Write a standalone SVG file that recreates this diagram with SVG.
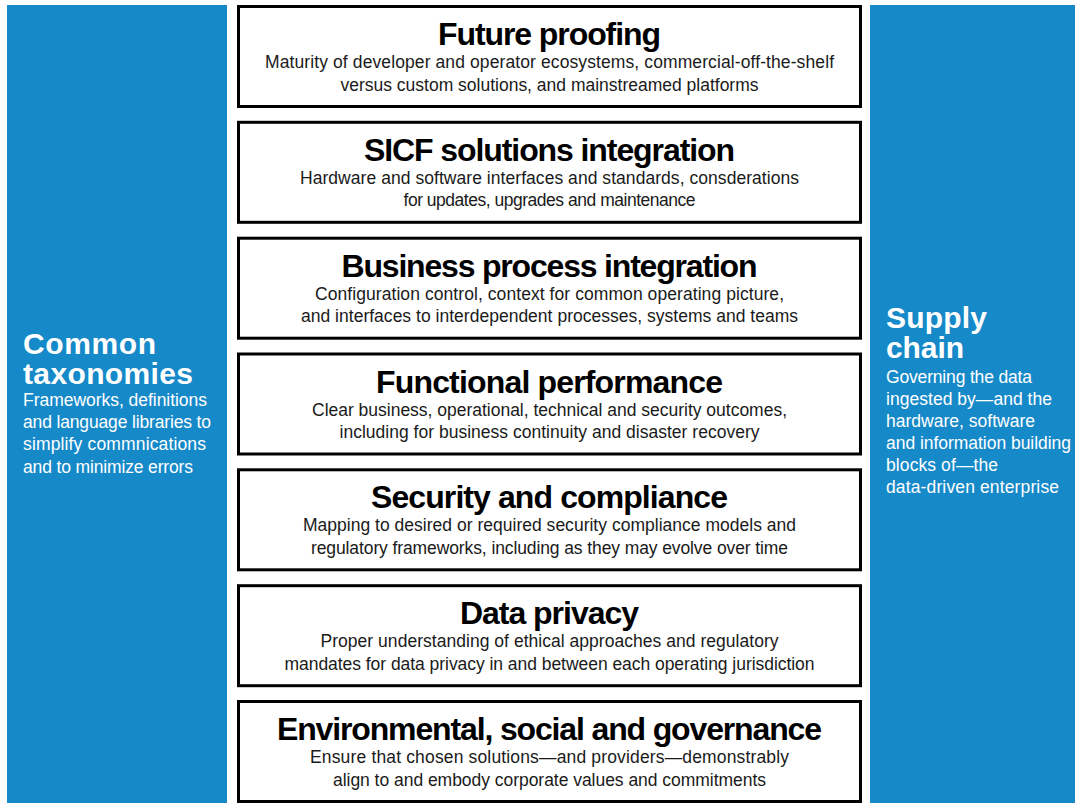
<svg xmlns="http://www.w3.org/2000/svg" width="1075" height="803" viewBox="0 0 1075 803">
  <style>
    .side { fill: #1689c8; }
    .box { fill: #ffffff; stroke: #000000; stroke-width: 3; }
    .title { font-family: "Liberation Sans", Arial, sans-serif; font-weight: 700; font-size: 32px; fill: #000000; text-anchor: middle; }
    .body { font-family: "Liberation Sans", Arial, sans-serif; font-size: 17.5px; fill: #1a1a1a; text-anchor: middle; }
    .sideHead { font-family: "Liberation Sans", Arial, sans-serif; font-weight: 700; font-size: 30px; fill: #ffffff; }
    .sideBody { font-family: "Liberation Sans", Arial, sans-serif; font-size: 17.5px; fill: #ffffff; }
  </style>
  <rect width="1075" height="803" fill="#ffffff"/>

  <!-- left column -->
  <g id="common-taxonomies">
    <rect class="side" x="7" y="5" width="220" height="798"/>
    <text class="sideHead" x="23" y="354" textLength="133">Common</text>
    <text class="sideHead" x="23" y="384" textLength="170">taxonomies</text>
    <text class="sideBody" x="23" y="406" textLength="184">Frameworks, definitions</text>
    <text class="sideBody" x="23" y="428" textLength="188">and language libraries to</text>
    <text class="sideBody" x="23" y="450" textLength="183">simplify commnications</text>
    <text class="sideBody" x="23" y="473" textLength="170">and to minimize errors</text>
  </g>

  <!-- right column -->
  <g id="supply-chain">
    <rect class="side" x="870" y="5" width="205" height="798"/>
    <text class="sideHead" x="886" y="328" textLength="101">Supply</text>
    <text class="sideHead" x="886" y="358" textLength="78">chain</text>
    <text class="sideBody" x="886" y="383" textLength="146">Governing the data</text>
    <text class="sideBody" x="886" y="405" textLength="166">ingested by—and the</text>
    <text class="sideBody" x="886" y="427" textLength="149">hardware, software</text>
    <text class="sideBody" x="886" y="449" textLength="185">and information building</text>
    <text class="sideBody" x="886" y="471" textLength="112">blocks of—the</text>
    <text class="sideBody" x="886" y="493" textLength="173">data-driven enterprise</text>
  </g>

  <!-- stacked layers -->
  <g id="future-proofing">
    <rect class="box" x="238.5" y="6.5" width="622" height="100"/>
    <text class="title" x="549.5" y="45" textLength="223">Future proofing</text>
    <text class="body" x="549.5" y="68" textLength="569">Maturity of developer and operator ecosystems, commercial-off-the-shelf</text>
    <text class="body" x="549.5" y="90.5" textLength="418">versus custom solutions, and mainstreamed platforms</text>
  </g>
  <g id="sicf-solutions-integration">
    <rect class="box" x="238.5" y="122.3" width="622" height="100"/>
    <text class="title" x="549.5" y="160.8" textLength="371">SICF solutions integration</text>
    <text class="body" x="549.5" y="183.8" textLength="499">Hardware and software interfaces and standards, consderations</text>
    <text class="body" x="549.5" y="206.3" textLength="292">for updates, upgrades and maintenance</text>
  </g>
  <g id="business-process-integration">
    <rect class="box" x="238.5" y="238.2" width="622" height="100"/>
    <text class="title" x="549.5" y="276.7" textLength="416">Business process integration</text>
    <text class="body" x="549.5" y="299.7" textLength="469">Configuration control, context for common operating picture,</text>
    <text class="body" x="549.5" y="322.2" textLength="497">and interfaces to interdependent processes, systems and teams</text>
  </g>
  <g id="functional-performance">
    <rect class="box" x="238.5" y="354" width="622" height="100"/>
    <text class="title" x="549.5" y="392.5" textLength="347">Functional performance</text>
    <text class="body" x="549.5" y="415.5" textLength="475">Clear business, operational, technical and security outcomes,</text>
    <text class="body" x="549.5" y="438" textLength="420">including for business continuity and disaster recovery</text>
  </g>
  <g id="security-and-compliance">
    <rect class="box" x="238.5" y="469.8" width="622" height="100"/>
    <text class="title" x="549.5" y="508.3" textLength="357">Security and compliance</text>
    <text class="body" x="549.5" y="531.3" textLength="493">Mapping to desired or required security compliance models and</text>
    <text class="body" x="549.5" y="553.8" textLength="477">regulatory frameworks, including as they may evolve over time</text>
  </g>
  <g id="data-privacy">
    <rect class="box" x="238.5" y="585.7" width="622" height="100"/>
    <text class="title" x="549.5" y="624.2" textLength="179">Data privacy</text>
    <text class="body" x="549.5" y="647.2" textLength="458">Proper understanding of ethical approaches and regulatory</text>
    <text class="body" x="549.5" y="669.7" textLength="530">mandates for data privacy in and between each operating jurisdiction</text>
  </g>
  <g id="environmental-social-governance">
    <rect class="box" x="238.5" y="701.5" width="622" height="100"/>
    <text class="title" x="549.5" y="740" textLength="545">Environmental, social and governance</text>
    <text class="body" x="549.5" y="763" textLength="479">Ensure that chosen solutions—and providers—demonstrably</text>
    <text class="body" x="549.5" y="785.5" textLength="433">align to and embody corporate values and commitments</text>
  </g>
</svg>
